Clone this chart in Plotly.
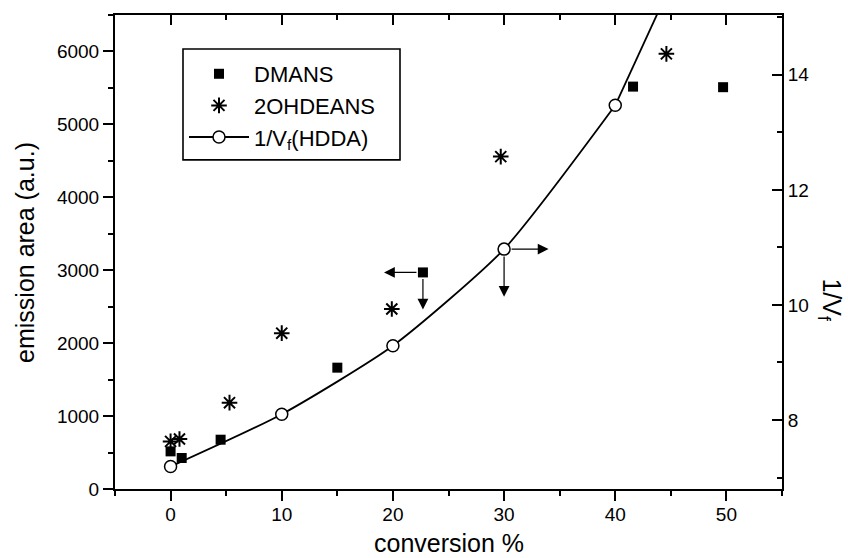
import plotly.graph_objects as go

# ---- data ----
dmans_x = [0.0, 1.0, 4.5, 15.0, 22.7, 41.6, 49.7]
dmans_y = [516, 425, 676, 1664, 2970, 5518, 5510]

ohde_x = [0.0, 0.8, 5.3, 10.0, 19.9, 29.7, 44.6]
ohde_y = [653, 686, 1184, 2137, 2469, 4558, 5967]

hdda_x = [0, 10, 20, 30, 40]
hdda_y = [7.19, 8.10, 9.29, 10.97, 13.47]

# continuation of the fitted curve past the last point, up through the frame
ext_x = [40, 44]
ext_y = [13.47, 15.15]

FONT = "Liberation Sans, Arial, sans-serif"
BLACK = "black"

fig = go.Figure()

fig.add_trace(go.Scatter(
    x=dmans_x, y=dmans_y, mode="markers", name="DMANS",
    marker=dict(symbol="square", size=10, color=BLACK),
    xaxis="x", yaxis="y"))

fig.add_trace(go.Scatter(
    x=ohde_x, y=ohde_y, mode="markers", name="2OHDEANS",
    marker=dict(symbol="asterisk-open", size=13, color=BLACK,
                line=dict(width=2, color=BLACK)),
    xaxis="x", yaxis="y"))

fig.add_trace(go.Scatter(
    x=ext_x, y=ext_y, mode="lines", showlegend=False,
    line=dict(color=BLACK, width=1.8),
    xaxis="x2", yaxis="y2", hoverinfo="skip"))

fig.add_trace(go.Scatter(
    x=hdda_x, y=hdda_y, mode="lines+markers", name="1/V<sub>f</sub>(HDDA)",
    line=dict(color=BLACK, width=1.8, shape="spline", smoothing=0.6),
    marker=dict(symbol="circle", size=12, color="white",
                line=dict(width=1.5, color=BLACK)),
    xaxis="x2", yaxis="y2"))

# arrows indicating which axis each series belongs to
sq_x, sq_y = dmans_x[4], dmans_y[4]
ci_x, ci_y = hdda_x[3], hdda_y[3]
arrow = dict(showarrow=True, text="", arrowhead=2, arrowsize=1.8,
             arrowwidth=1.2, arrowcolor=BLACK)
title_font = dict(family=FONT, size=25, color=BLACK)
annotations = [
    dict(x=sq_x - 3.5, y=sq_y, ax=sq_x, ay=sq_y, xref="x", yref="y",
         axref="x", ayref="y", startstandoff=5, **arrow),
    dict(x=sq_x, y=sq_y - 510, ax=sq_x, ay=sq_y, xref="x", yref="y",
         axref="x", ayref="y", startstandoff=5, **arrow),
    dict(x=ci_x + 4.0, y=ci_y, ax=ci_x, ay=ci_y, xref="x2", yref="y2",
         axref="x2", ayref="y2", startstandoff=6, **arrow),
    dict(x=ci_x, y=ci_y - 0.83, ax=ci_x, ay=ci_y, xref="x2", yref="y2",
         axref="x2", ayref="y2", startstandoff=6, **arrow),
    dict(text="emission area (a.u.)", xref="paper", yref="paper",
         x=-0.135, y=0.5, textangle=-90, showarrow=False,
         xanchor="center", yanchor="middle", font=title_font),
    dict(text="conversion %", xref="paper", yref="paper",
         x=0.5, y=-0.114, showarrow=False, xanchor="center", yanchor="middle",
         font=title_font),
    dict(text="1/V<sub>f</sub>", xref="paper", yref="paper",
         x=1.072, y=0.40, textangle=90, showarrow=False,
         xanchor="center", yanchor="middle", font=title_font),
]

# legend frame (px 183..400 x, 49..160 y in the plot frame)
plot_l, plot_w, plot_b, plot_h = 115, 667, 489.3, 474.3
shapes = [dict(type="rect", xref="paper", yref="paper",
               x0=(183 - plot_l) / plot_w, x1=(400 - plot_l) / plot_w,
               y0=(plot_b - 160) / plot_h, y1=(plot_b - 49) / plot_h,
               line=dict(color=BLACK, width=1.6), fillcolor="rgba(0,0,0,0)",
               layer="above")]

tickfont = dict(family=FONT, size=19, color=BLACK)
common_x = dict(range=[-5, 55], tick0=0, dtick=10, showgrid=False,
                zeroline=False, showline=True, linecolor=BLACK, linewidth=2,
                tickcolor=BLACK, tickwidth=1.6, ticklen=10)

fig.update_layout(
    width=848, height=558,
    margin=dict(l=115, r=66, t=15, b=69, pad=0),
    paper_bgcolor="white", plot_bgcolor="white",
    font=dict(family=FONT, color=BLACK),
    xaxis=dict(**common_x, ticks="outside", tickfont=tickfont,
               ticklabelstandoff=-3,
               minor=dict(dtick=5, ticks="outside", ticklen=5,
                          tickcolor=BLACK, tickwidth=1.6)),
    xaxis2=dict(**common_x, ticks="inside", showticklabels=False,
                overlaying="x", side="top", anchor="y2",
                minor=dict(dtick=5, ticks="inside", ticklen=5,
                           tickcolor=BLACK, tickwidth=1.6)),
    yaxis=dict(range=[0, 6500], tick0=0, dtick=1000, showgrid=False,
               zeroline=False, showline=True, linecolor=BLACK, linewidth=2,
               ticks="outside", ticklen=10, tickwidth=1.6, tickcolor=BLACK,
               tickfont=tickfont,
               minor=dict(dtick=500, ticks="outside", ticklen=5,
                          tickcolor=BLACK, tickwidth=1.6)),
    yaxis2=dict(range=[6.8, 15.04], tick0=0, dtick=2, showgrid=False,
                zeroline=False, showline=True, linecolor=BLACK, linewidth=2,
                ticks="inside", ticklen=10, tickwidth=1.6, tickcolor=BLACK,
                tickfont=tickfont, overlaying="y", side="right", anchor="x2",
                minor=dict(dtick=1, ticks="inside", ticklen=5,
                           tickcolor=BLACK, tickwidth=1.6)),
    legend=dict(x=(184 - plot_l) / plot_w, y=(plot_b - 53) / plot_h,
                xanchor="left", yanchor="top",
                bgcolor="white", borderwidth=0,
                font=dict(family=FONT, size=22, color=BLACK),
                itemwidth=60),
    annotations=annotations,
    shapes=shapes,
    showlegend=True,
)

fig.write_html("out.html")
